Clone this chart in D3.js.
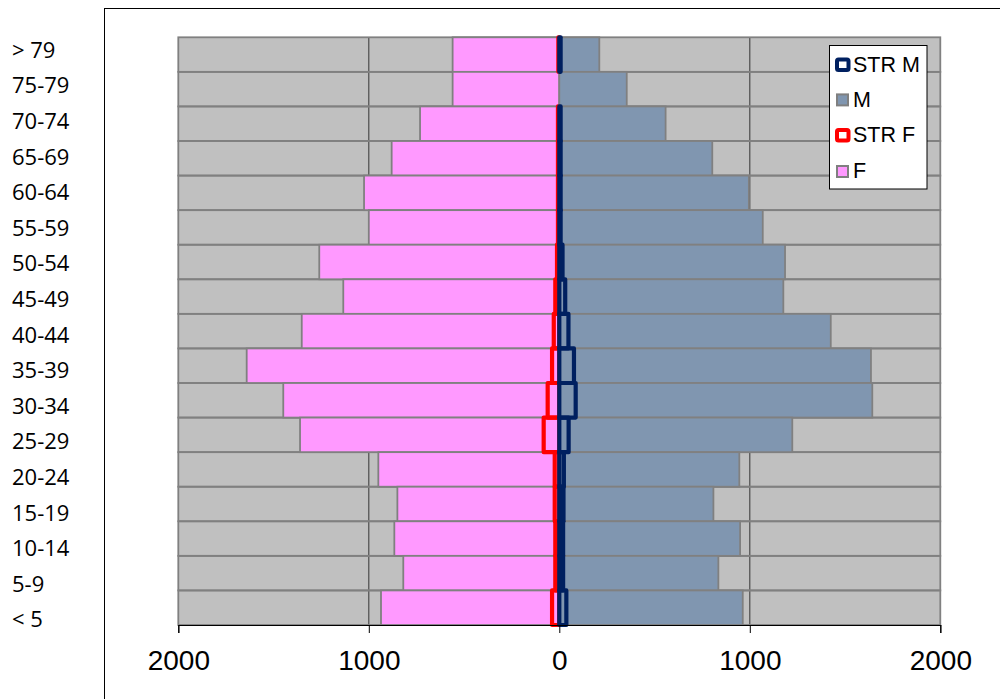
<!DOCTYPE html>
<html><head><meta charset="utf-8">
<script src="https://cdn.jsdelivr.net/npm/d3@7"></script>
<style>body{margin:0;background:#fff}svg{display:block}</style>
</head><body>
<svg id="c" width="1000" height="699"></svg>
<script>
const ageGroups = ["> 79","75-79","70-74","65-69","60-64","55-59","50-54","45-49","40-44","35-39","30-34","25-29","20-24","15-19","10-14","5-9","< 5"];
const female    = [560,560,731,880,1025,1000,1260,1134,1352,1641,1449,1361,950,850,866,819,936];
const male      = [210,354,558,803,995,1068,1185,1176,1425,1636,1643,1223,945,809,949,835,963];
const strFemale = [5,0,7,7,7,7,12,21,29,38,61,82,24,24,21,21,38];
const strMale   = [7,null,7,7,7,7,17,31,48,77,86,49,24,22,20,20,37];
const tickValues = [-2000,-1000,0,1000,2000];
const legendItems = ["STR M","M","STR F","F"];

const svg = d3.select("#c");
const x = d3.scaleLinear().domain([-2000,2000]).range([178.3,940.3]);
const y = d3.scaleBand().domain(ageGroups).range([37.3,625]).paddingInner(0).paddingOuter(0);
const labelY = d3.scalePoint().domain(ageGroups).range([50,619.6]);

// outer chart border
svg.append("rect").attr("x",104.5).attr("y",8.5).attr("width",1000).attr("height",800)
  .attr("fill","none").attr("stroke","#000").attr("stroke-width",1);

// background rows
svg.append("g").selectAll("rect").data(ageGroups).join("rect")
  .attr("x",x(-2000)).attr("width",x(2000)-x(-2000))
  .attr("y",d=>y(d)).attr("height",y.bandwidth())
  .attr("fill","#C0C0C0");
// gridlines
svg.append("g").selectAll("line").data([-1000,1000]).join("line")
  .attr("x1",d=>x(d)).attr("x2",d=>x(d)).attr("y1",y.range()[0]).attr("y2",y.range()[1])
  .attr("stroke","#404040").attr("stroke-width",1.1);
svg.append("g").selectAll("rect").data(ageGroups).join("rect")
  .attr("x",x(-2000)).attr("width",x(2000)-x(-2000))
  .attr("y",d=>y(d)).attr("height",y.bandwidth())
  .attr("fill","none").attr("stroke","#808080").attr("stroke-width",1.8);

// F bars
svg.append("g").selectAll("rect").data(ageGroups).join("rect")
  .attr("x",(d,i)=>x(-female[i])).attr("width",(d,i)=>x(0)-x(-female[i]))
  .attr("y",d=>y(d)).attr("height",y.bandwidth())
  .attr("fill","#FF99FF").attr("stroke","#808080").attr("stroke-width",1.8);
// STR F
svg.append("g").selectAll("rect").data(ageGroups.filter((d,i)=>strFemale[i]!=null)).join("rect")
  .attr("x",d=>x(-strFemale[ageGroups.indexOf(d)])).attr("width",d=>x(0)-x(-strFemale[ageGroups.indexOf(d)]))
  .attr("y",d=>y(d)).attr("height",y.bandwidth())
  .attr("fill","none").attr("stroke","#FF0000").attr("stroke-width",4.2).attr("stroke-linejoin","round");
// M bars
svg.append("g").selectAll("rect").data(ageGroups).join("rect")
  .attr("x",x(0)).attr("width",(d,i)=>x(male[i])-x(0))
  .attr("y",d=>y(d)).attr("height",y.bandwidth())
  .attr("fill","#8096B0").attr("stroke","#808080").attr("stroke-width",1.8);
// STR M
svg.append("g").selectAll("rect").data(ageGroups.filter((d,i)=>strMale[i]!=null)).join("rect")
  .attr("x",x(0)).attr("width",d=>x(strMale[ageGroups.indexOf(d)])-x(0))
  .attr("y",d=>y(d)).attr("height",y.bandwidth())
  .attr("fill","none").attr("stroke","#002060").attr("stroke-width",4.2).attr("stroke-linejoin","round");

// x axis
const xAxis = d3.axisBottom(x).tickValues(tickValues).tickFormat(d=>Math.abs(d)).tickSize(8).tickPadding(16);
const ax = svg.append("g").attr("transform","translate(0,625)").call(xAxis);
ax.select(".domain").attr("stroke","#000").attr("stroke-width",1.2);
ax.selectAll(".tick line").attr("stroke","#000").attr("stroke-width",1);
ax.selectAll(".tick text").attr("font-family","'Liberation Sans', Arial, sans-serif")
  .attr("font-size",28).attr("fill","#000").attr("dy",null).attr("y",44.5);

// category labels
svg.append("g").selectAll("text").data(ageGroups).join("text")
  .attr("x",12).attr("y",d=>labelY(d)+7.8)
  .attr("font-family","'Open Sans', sans-serif").attr("font-size",22).attr("fill","#000")
  .text(d=>d);

// legend
const lg = svg.append("g");
lg.append("rect").attr("x",829.5).attr("y",45.5).attr("width",97.5).attr("height",143.5)
  .attr("fill","#fff").attr("stroke","#000").attr("stroke-width",1);
const lgBase = [71.7,106.7,142.3,178.3];
legendItems.forEach((name,i)=>{
  const b = lgBase[i];
  if (name==="STR M" || name==="STR F") {
    lg.append("rect").attr("x",837).attr("y",b-12.3).attr("width",11.5).attr("height",10.5)
      .attr("rx",1.5).attr("fill","#fff").attr("stroke",name==="STR M"?"#002060":"#FF0000").attr("stroke-width",4);
  } else {
    lg.append("rect").attr("x",837).attr("y",b-12.3).attr("width",11).attr("height",11)
      .attr("fill",name==="M"?"#8096B0":"#FF99FF").attr("stroke","#808080").attr("stroke-width",2);
  }
  lg.append("text").attr("x",853).attr("y",b)
    .attr("font-family","'Liberation Sans', Arial, sans-serif").attr("font-size",21.5).attr("fill","#000")
    .text(name);
});
</script>
</body></html>
